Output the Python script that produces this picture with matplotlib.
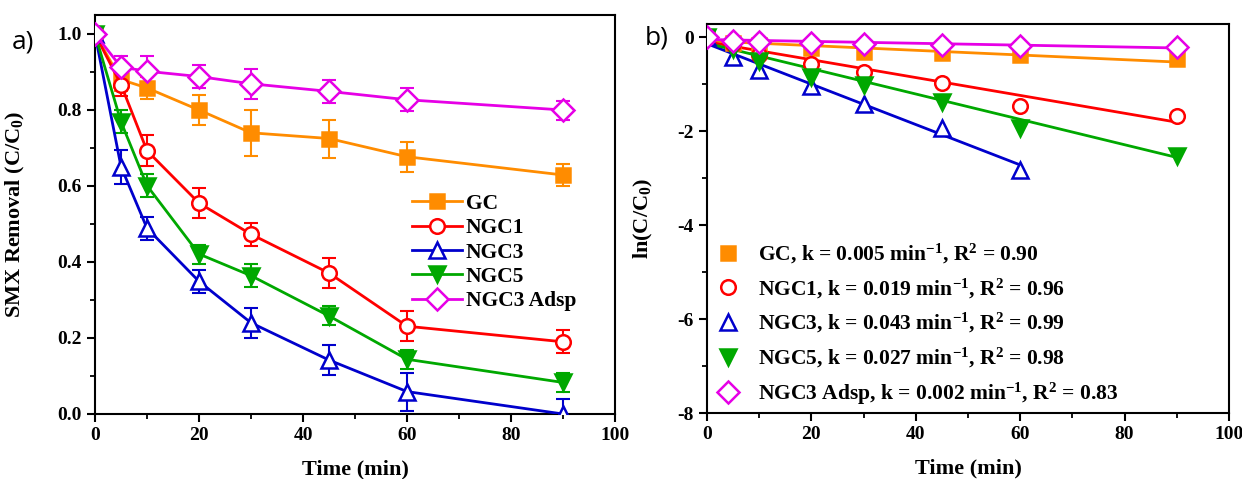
import matplotlib.pyplot as plt
from matplotlib.ticker import MultipleLocator, FormatStrFormatter
import numpy as np

plt.rcParams["font.family"] = "Liberation Serif"
plt.rcParams["font.weight"] = "bold"
plt.rcParams["mathtext.fontset"] = "custom"
plt.rcParams["mathtext.rm"] = "Liberation Serif:bold"
plt.rcParams["mathtext.it"] = "Liberation Serif:bold"
plt.rcParams["mathtext.bf"] = "Liberation Serif:bold"
plt.rcParams["axes.unicode_minus"] = False

# sampling times (min)
time = [0, 5, 10, 20, 30, 45, 60, 90]
time_ngc3_fit = [0, 5, 10, 20, 30, 45, 60]

# C/C0 for each catalyst
gc = [1.0, 0.88, 0.858, 0.80, 0.74, 0.725, 0.677, 0.629]
ngc1 = [1.0, 0.867, 0.693, 0.555, 0.473, 0.371, 0.231, 0.19]
ngc3 = [1.0, 0.651, 0.489, 0.349, 0.24, 0.142, 0.059, 0.0]
ngc5 = [1.0, 0.769, 0.601, 0.421, 0.364, 0.258, 0.144, 0.083]
adsp = [1.0, 0.913, 0.902, 0.888, 0.869, 0.849, 0.827, 0.80]

# error bars for t = 5 ... 90
gc_err = [0.03, 0.03, 0.04, 0.06, 0.05, 0.04, 0.03]
ngc1_err = [0.03, 0.04, 0.04, 0.03, 0.04, 0.04, 0.03]
ngc3_err = [0.045, 0.03, 0.03, 0.04, 0.04, 0.05, 0.04]
ngc5_err = [0.03, 0.03, 0.025, 0.03, 0.025, 0.025, 0.025]
adsp_err = [0.03, 0.04, 0.03, 0.04, 0.03, 0.03, 0.025]

# ln(C/C0)
ln_gc = [0, -0.13, -0.16, -0.24, -0.31, -0.33, -0.39, -0.47]
ln_ngc1 = [0, -0.14, -0.37, -0.58, -0.75, -0.98, -1.46, -1.67]
ln_ngc3 = [0, -0.42, -0.70, -1.04, -1.42, -1.93, -2.82]
ln_ngc5 = [0, -0.26, -0.50, -0.84, -1.02, -1.37, -1.94, -2.54]
ln_adsp = [0, -0.09, -0.10, -0.12, -0.14, -0.16, -0.19, -0.22]

# pseudo-first-order fits
k_values = [0.005, 0.019, 0.043, 0.027, 0.002]
intercepts = [-0.08, -0.10, -0.14, -0.13, -0.05]
r2_values = [0.90, 0.96, 0.99, 0.98, 0.83]

names = ["GC", "NGC1", "NGC3", "NGC5", "NGC3 Adsp"]
colors = ["#FF8C00", "#FF0000", "#0000CC", "#00A800", "#E600E6"]
markers = ["s", "o", "^", "v", "D"]
msizes = [10, 10.5, 12, 11.5, 11]
filled = [True, False, False, True, False]

fig = plt.figure(figsize=(12.42, 4.79), dpi=100)
ax1 = fig.add_axes([95 / 1242, 1 - 414 / 479, 520 / 1242, 399 / 479])
ax2 = fig.add_axes([707 / 1242, 1 - 413 / 479, 522 / 1242, 389 / 479])


def style_axis(ax):
    for sp in ax.spines.values():
        sp.set_linewidth(1.5)
    ax.tick_params(which="major", direction="out", length=6, width=1.5,
                   labelsize=14, top=False, right=False)
    ax.tick_params(which="minor", direction="out", length=3.5, width=1.3,
                   top=False, right=False)
    ax.xaxis.set_major_locator(MultipleLocator(20))
    ax.xaxis.set_minor_locator(MultipleLocator(10))
    ax.set_xlim(0, 100)
    ax.set_xlabel("Time (min)", fontsize=16, fontweight="bold", labelpad=11)


# a) removal curves
series = [gc, ngc1, ngc3, ngc5, adsp]
errors = [gc_err, ngc1_err, ngc3_err, ngc5_err, adsp_err]
for i in range(5):
    c = colors[i]
    face = c if filled[i] else "white"
    ax1.plot(time, series[i], color=c, lw=2, marker=markers[i], ms=msizes[i],
             mfc=face, mec=c, mew=1.8, label=names[i], zorder=3)
    ax1.errorbar(time[1:], series[i][1:], yerr=errors[i], fmt="none",
                 ecolor=c, elinewidth=1.5, capsize=5, capthick=1.5, zorder=2)

style_axis(ax1)
ax1.set_ylim(0, 1.05)
ax1.yaxis.set_major_locator(MultipleLocator(0.2))
ax1.yaxis.set_minor_locator(MultipleLocator(0.1))
ax1.yaxis.set_major_formatter(FormatStrFormatter("%.1f"))
ax1.set_ylabel("SMX Removal (C/C$_0$)", fontsize=16, fontweight="bold")
ax1.yaxis.set_label_coords(-0.13, 0.5)
ax1.legend(loc="upper left", bbox_to_anchor=(0.61, 0.552), frameon=False,
           fontsize=15.5, handlelength=2.3, handletextpad=0.2, labelspacing=0.2,
           borderpad=0, borderaxespad=0)

# b) kinetics
ln_series = [ln_gc, ln_ngc1, ln_ngc3, ln_ngc5, ln_adsp]
for i in range(5):
    c = colors[i]
    t = time_ngc3_fit if i == 2 else time
    t_fit = np.array([0, t[-1]])
    ax2.plot(t_fit, intercepts[i] - k_values[i] * t_fit, color=c, lw=2, zorder=2)
for i in range(5):
    c = colors[i]
    t = time_ngc3_fit if i == 2 else time
    face = c if filled[i] else "white"
    label = (f"{names[i]}, k = {k_values[i]:.3f} min$^{{-1}}$, "
             f"R$^{{2}}$ = {r2_values[i]:.2f}")
    ax2.plot(t, ln_series[i], ls="none", marker=markers[i], ms=msizes[i],
             mfc=face, mec=c, mew=1.8, label=label, zorder=3)

style_axis(ax2)
ax2.set_ylim(-8, 0.28)
ax2.yaxis.set_major_locator(MultipleLocator(2))
ax2.yaxis.set_minor_locator(MultipleLocator(1))
ax2.yaxis.set_major_formatter(FormatStrFormatter("%d"))
ax2.set_ylabel("ln(C/C$_0$)", fontsize=16, fontweight="bold")
ax2.yaxis.set_label_coords(-0.1, 0.5)
ax2.legend(loc="upper left", bbox_to_anchor=(0.02, 0.44), frameon=False,
           fontsize=15.5, handlelength=1.0, handletextpad=0.9, labelspacing=0.5,
           borderpad=0, borderaxespad=0)

# panel tags
fig.text(12 / 1242, 1 - 42 / 479, "a)", fontsize=19, family="Open Sans",
         fontweight="normal", va="center")
fig.text(645 / 1242, 1 - 38 / 479, "b)", fontsize=19, family="Open Sans",
         fontweight="normal", va="center")

fig.savefig("out.png", dpi=100)
